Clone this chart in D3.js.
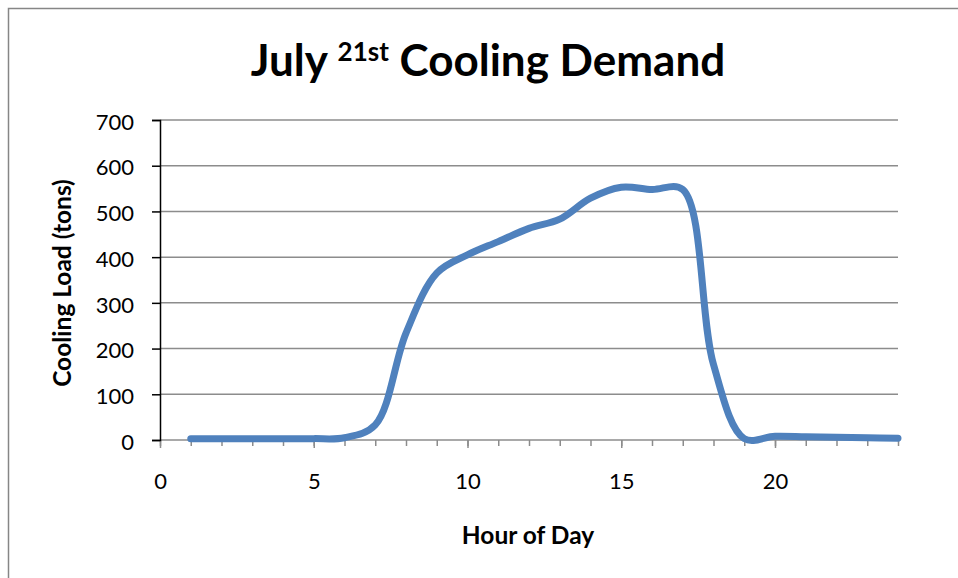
<!DOCTYPE html>
<meta charset="utf-8">
<script src="https://d3js.org/d3.v7.min.js"></script>
<style>
  body { margin: 0; background-color: white; }
  text { font-family: Lato, "Open Sans", sans-serif; fill: #000; }
</style>
<div id="chart"></div>
<script>
  // hourly cooling load, July 21st
  var hours = [1, 2, 3, 4, 5, 6, 7, 8, 9, 10, 11, 12,
               13, 14, 15, 16, 17, 18, 19, 20, 21, 22, 23, 24];
  var loadTons = [3, 3, 3, 3, 3, 5, 33, 234, 365, 405, 434, 463,
                  483, 529, 553, 548, 548, 165, 3, 8, 7, 6, 5, 4];
  var xTicks = [0, 5, 10, 15, 20];
  var yTicks = [0, 100, 200, 300, 400, 500, 600, 700];

  var width = 958, height = 578;
  var margin = {top: 120, right: 60, bottom: 138, left: 160};

  var svg = d3.select("#chart")
    .append("svg")
      .attr("width", width)
      .attr("height", height);

  // outer chart border (only top and left visible in the picture)
  svg.append("path")
    .attr("d", "M8.5," + height + "V8.5H" + width)
    .attr("fill", "none")
    .attr("stroke", "#868686")
    .attr("stroke-width", 1.5);

  var x = d3.scaleLinear()
    .domain([0, 24])
    .range([margin.left, width - margin.right]);

  var y = d3.scaleLinear()
    .domain([0, 700])
    .range([height - margin.bottom, margin.top]);

  // gridlines
  svg.append("g")
    .selectAll("line")
    .data(yTicks)
    .enter()
    .append("line")
      .attr("x1", x(0))
      .attr("x2", x(24))
      .attr("y1", function(d) { return y(d); })
      .attr("y2", function(d) { return y(d); })
      .attr("stroke", "#8c8c8c")
      .attr("stroke-width", 1.5);

  // x axis: minor ticks every hour, longer ones every 5
  var xAxis = svg.append("g")
    .attr("transform", "translate(0," + y(0) + ")");
  xAxis.call(d3.axisBottom(x).tickValues(hours.concat([0])).tickSize(6).tickFormat(""));
  xAxis.select(".domain").remove();
  xAxis.selectAll("line").attr("stroke", "#8c8c8c").attr("stroke-width", 1.5);

  var xMajor = svg.append("g")
    .attr("transform", "translate(0," + y(0) + ")");
  xMajor.call(d3.axisBottom(x).tickValues(xTicks).tickSize(8).tickPadding(25));
  xMajor.select(".domain").remove();
  xMajor.selectAll("line").attr("stroke", "#8c8c8c").attr("stroke-width", 1.5);
  xMajor.selectAll("text")
    .attr("font-size", 22)
    .style("font-family", "Lato");

  // y axis
  var yAxis = svg.append("g")
    .attr("transform", "translate(" + x(0) + ",0)");
  yAxis.call(d3.axisLeft(y).tickValues(yTicks).tickSize(8).tickPadding(18));
  yAxis.select(".domain").attr("stroke", "#000").attr("stroke-width", 1.5);
  yAxis.selectAll("line").attr("stroke", "#000").attr("stroke-width", 1.5);
  yAxis.selectAll("text")
    .attr("font-size", 22)
    .attr("dy", "0.42em")
    .style("font-family", "Lato");

  // the series
  var line = d3.line()
    .x(function(d, i) { return x(hours[i]); })
    .y(function(d) { return y(d); })
    .curve(d3.curveCatmullRom);

  svg.append("path")
    .datum(loadTons)
    .attr("d", line)
    .attr("fill", "none")
    .attr("stroke", "#4f81bd")
    .attr("stroke-width", 7)
    .attr("stroke-linecap", "round")
    .attr("stroke-linejoin", "round");

  // title
  var title = svg.append("text")
    .attr("x", 488)
    .attr("y", 76)
    .attr("text-anchor", "middle")
    .attr("font-size", 44)
    .attr("font-weight", "bold");
  title.append("tspan").text("July ");
  title.append("tspan").attr("font-size", 26).attr("dy", -15).text("21st");
  title.append("tspan").attr("dy", 15).text(" Cooling Demand");

  // axis titles
  svg.append("text")
    .attr("x", 528)
    .attr("y", 544)
    .attr("text-anchor", "middle")
    .attr("font-size", 24.5)
    .attr("font-weight", "bold")
    .text("Hour of Day");

  svg.append("text")
    .attr("transform", "translate(71,283) rotate(-90)")
    .attr("text-anchor", "middle")
    .attr("font-size", 24.5)
    .attr("font-weight", "bold")
    .text("Cooling Load (tons)");
</script>
